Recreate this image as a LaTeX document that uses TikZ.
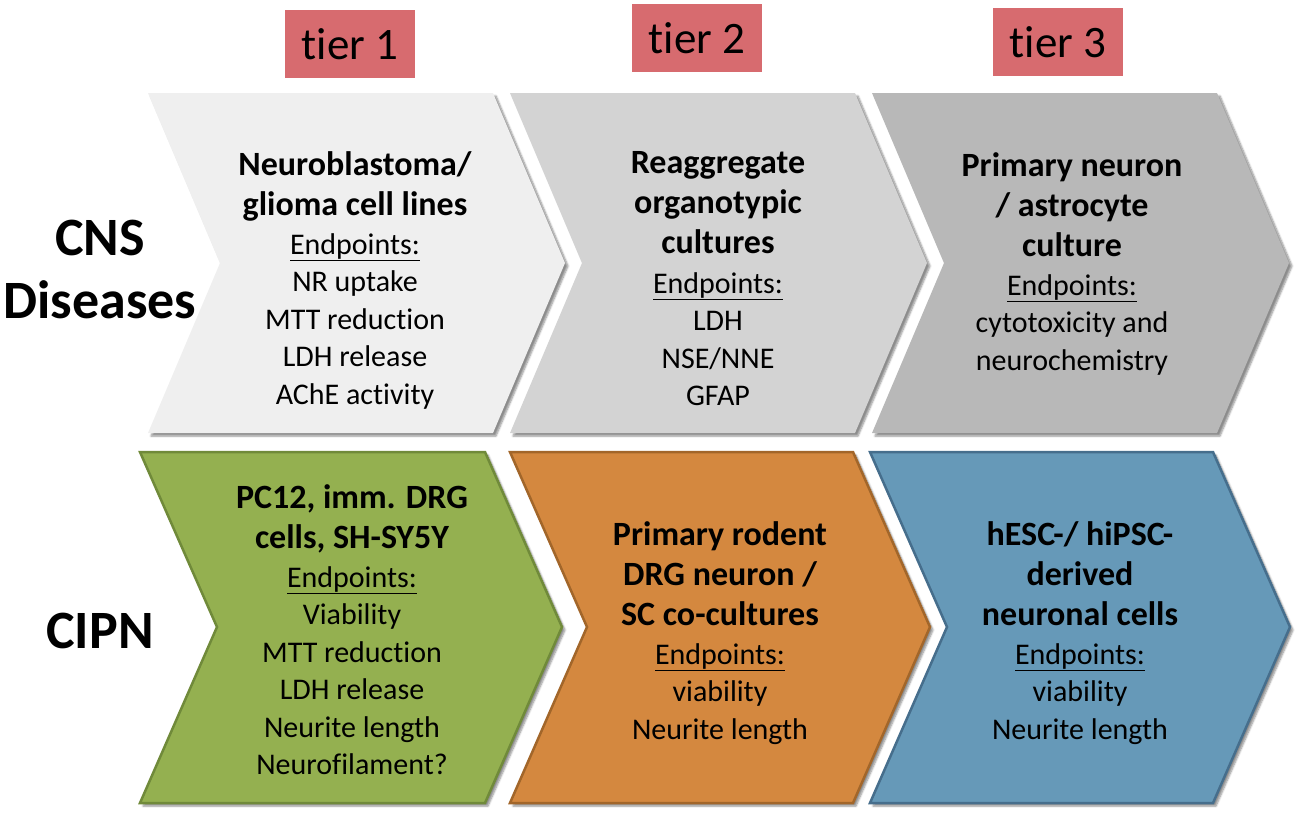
\documentclass[tikz,border=0pt]{standalone}
\usepackage{fontspec}
\setmainfont{Carlito}[Ligatures=NoCommon]
\usetikzlibrary{positioning,shadows.blur}

\definecolor{tierred}{RGB}{215,107,111}
\definecolor{cnsA}{RGB}{239,239,239}
\definecolor{cnsB}{RGB}{211,211,211}
\definecolor{cnsC}{RGB}{184,184,184}
\definecolor{cipnA}{RGB}{148,176,80}
\definecolor{cipnAline}{RGB}{112,138,58}
\definecolor{cipnB}{RGB}{212,136,63}
\definecolor{cipnBline}{RGB}{162,102,42}
\definecolor{cipnC}{RGB}{102,153,184}
\definecolor{cipnCline}{RGB}{70,110,140}

\begin{document}
\begin{tikzpicture}[x=1pt, y=-1pt,
    tier/.style={fill=tierred, minimum width=130pt, minimum height=68pt, inner sep=0pt,
        font=\fontsize{45}{50}\selectfont},
    rowlabel/.style={align=center, inner sep=0pt, font=\fontsize{54}{63}\selectfont\bfseries},
    title/.style={align=center, inner sep=0pt, font=\fontsize{34}{40}\selectfont\bfseries,
        execute at begin node=\strut, execute at end node=\strut},
    body/.style={align=center, inner sep=0pt, font=\fontsize{30}{37.5}\selectfont,
        execute at begin node=\strut, execute at end node=\strut},
    shade/.style={blur shadow={shadow xshift=3pt, shadow yshift=-3pt,
        shadow blur steps=6, shadow opacity=45}},
    ]
        \useasboundingbox (0,0) rectangle (1300,819);

        % tiers
        \node[tier] (tier1) at (350,44) {tier 1};
        \node[tier] (tier2) at (697,38) {tier 2};
        \node[tier] (tier3) at (1058,42) {tier 3};

        % rows
        \node[rowlabel] (cns) at (100,269) {CNS\\Diseases};
        \node[rowlabel] (cipn) at (100,631) {CIPN};

        % CNS chevrons
        \fill[shade, cnsA] (148,93) -- ++(345,0) -- ++(72,170) -- ++(-72,170) -- ++(-345,0) -- ++(72,-170) -- cycle;
        \fill[shade, cnsB] (510,93) -- ++(345,0) -- ++(72,170) -- ++(-72,170) -- ++(-345,0) -- ++(72,-170) -- cycle;
        \fill[shade, cnsC] (872,93) -- ++(345,0) -- ++(72,170) -- ++(-72,170) -- ++(-345,0) -- ++(72,-170) -- cycle;

        % CIPN chevrons
        \filldraw[shade, line width=2.5pt, fill=cipnA, draw=cipnAline] (140,452) -- ++(345,0) -- ++(77,175) -- ++(-77,176) -- ++(-345,0) -- ++(77,-176) -- cycle;
        \filldraw[shade, line width=2.5pt, fill=cipnB, draw=cipnBline] (510,452) -- ++(343,0) -- ++(77,175) -- ++(-77,176) -- ++(-343,0) -- ++(77,-176) -- cycle;
        \filldraw[shade, line width=2.5pt, fill=cipnC, draw=cipnCline] (870,452) -- ++(343,0) -- ++(77,175) -- ++(-77,176) -- ++(-343,0) -- ++(77,-176) -- cycle;

        % texts
        \node[title] (neuro) at (355,190) {Neuroblastoma/\\glioma cell lines};
        \node[body, below=5pt of neuro] (neuroEnd) {\underline{Endpoints:}\\NR uptake\\MTT reduction\\LDH release\\AChE activity};

        \node[title] (reagg) at (718,208) {Reaggregate\\organotypic\\cultures};
        \node[body, below=7pt of reagg] (reaggEnd) {\underline{Endpoints:}\\LDH\\NSE/NNE\\GFAP};

        \node[title] (prim) at (1072,211) {Primary neuron\\/ astrocyte\\culture};
        \node[body, below=5pt of prim] (primEnd) {\underline{Endpoints:}\\cytotoxicity and\\neurochemistry};

        \node[title] (pc) at (352,523) {PC12, imm. DRG\\cells, SH-SY5Y};
        \node[body, below=5pt of pc] (pcEnd) {\underline{Endpoints:}\\Viability\\MTT reduction\\LDH release\\Neurite length\\Neurofilament?};

        \node[title] (drg) at (720,580) {Primary rodent\\DRG neuron /\\SC co-cultures};
        \node[body, below=5pt of drg] (drgEnd) {\underline{Endpoints:}\\viability\\Neurite length};

        \node[title] (stem) at (1080,580) {hESC-/ hiPSC-\\derived\\neuronal cells};
        \node[body, below=5pt of stem] (stemEnd) {\underline{Endpoints:}\\viability\\Neurite length};
    \end{tikzpicture}
\end{document}
